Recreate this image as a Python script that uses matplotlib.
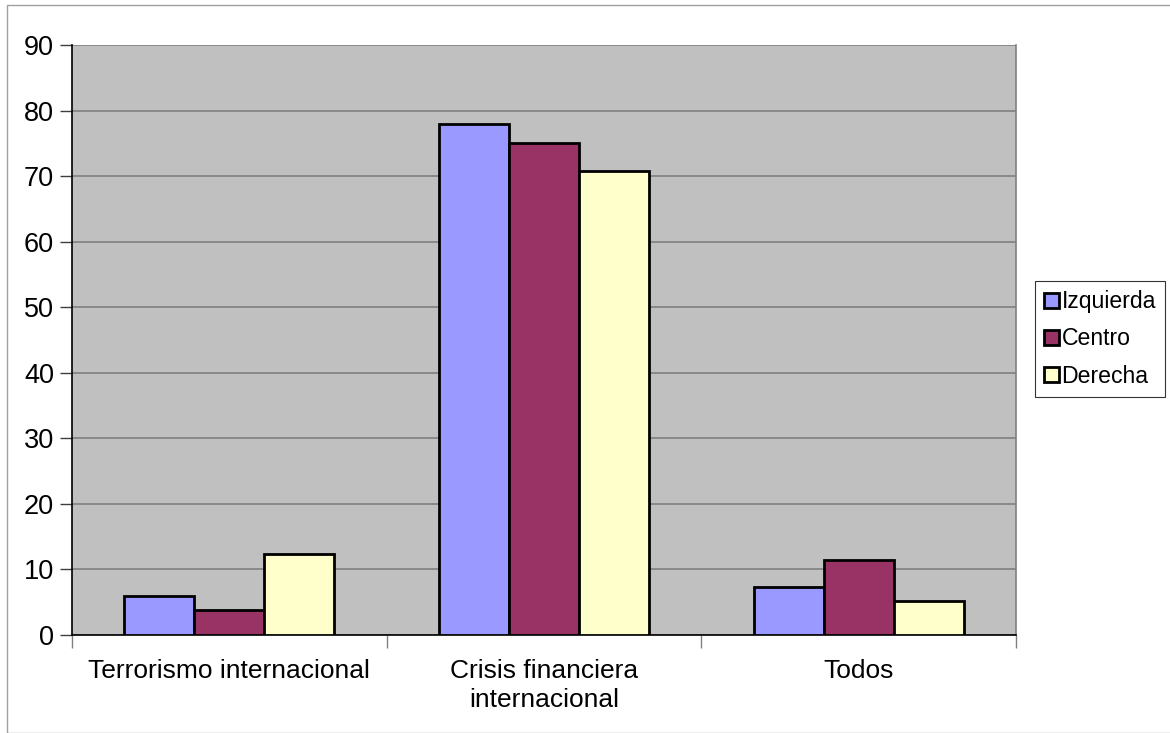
import matplotlib
matplotlib.use("Agg")
import matplotlib.pyplot as plt
import numpy as np
from matplotlib.patches import Rectangle

categories = ["Terrorismo internacional", "Crisis financiera\ninternacional", "Todos"]
series_names = ["Izquierda", "Centro", "Derecha"]
izquierda = [5.9, 77.9, 7.3]
centro = [3.8, 75.0, 11.4]
derecha = [12.4, 70.8, 5.2]
yticks = [0, 10, 20, 30, 40, 50, 60, 70, 80, 90]
colors = ["#9999FF", "#993366", "#FFFFCC"]

plt.rcParams['font.family'] = ['Liberation Sans', 'DejaVu Sans']

fig = plt.figure(figsize=(11.7, 7.33), dpi=100)
ax = fig.add_axes([72/1170, 1-635/733, (1016-72)/1170, (635-45)/733])
ax.set_facecolor("#C0C0C0")

x = np.arange(len(categories))
w = 1/4.5
for i, (vals, name) in enumerate(zip([izquierda, centro, derecha], series_names)):
    ax.bar(x + (i-1)*w, vals, width=w, color=colors[i], edgecolor="black",
           linewidth=2.0, label=name, zorder=3)

ax.set_xlim(-0.5, len(categories)-0.5)
ax.set_ylim(0, 90)
ax.set_yticks(yticks)
ax.set_yticklabels([str(t) for t in yticks], fontsize=19.5)
ax.yaxis.grid(True, color="#808080", linewidth=1.2, zorder=1)
ax.set_axisbelow(True)

ax.set_xticks(x)
ax.set_xticklabels(categories, fontsize=19, linespacing=1.3)
ax.tick_params(axis='x', length=0, pad=17)
ax.set_xticks(np.arange(-0.5, len(categories)), minor=True)
ax.tick_params(axis='x', which='minor', length=9, width=1, color='#808080')
ax.tick_params(axis='y', length=9, width=1, color='#404040', pad=4)

for s in ['left', 'bottom']:
    ax.spines[s].set_color('black')
    ax.spines[s].set_linewidth(1.2)
ax.spines['top'].set_visible(False)
ax.spines['right'].set_color('#808080')
ax.spines['right'].set_linewidth(1.2)

leg = ax.legend(loc='center left', bbox_to_anchor=(1035/1170, 1-339/733),
                bbox_transform=fig.transFigure, fontsize=16.6, frameon=True,
                fancybox=False, edgecolor='black', handlelength=0.62,
                handleheight=0.62, handletextpad=0.13, borderpad=0.4,
                labelspacing=0.62, borderaxespad=0)
leg.get_frame().set_linewidth(0.8)

fig.patches.append(Rectangle((7/1170, 0), 1.2, 1-5/733, transform=fig.transFigure,
                             fill=False, edgecolor='#A0A0A0', linewidth=1.0))

fig.savefig("out.png", dpi=100, facecolor="white")
